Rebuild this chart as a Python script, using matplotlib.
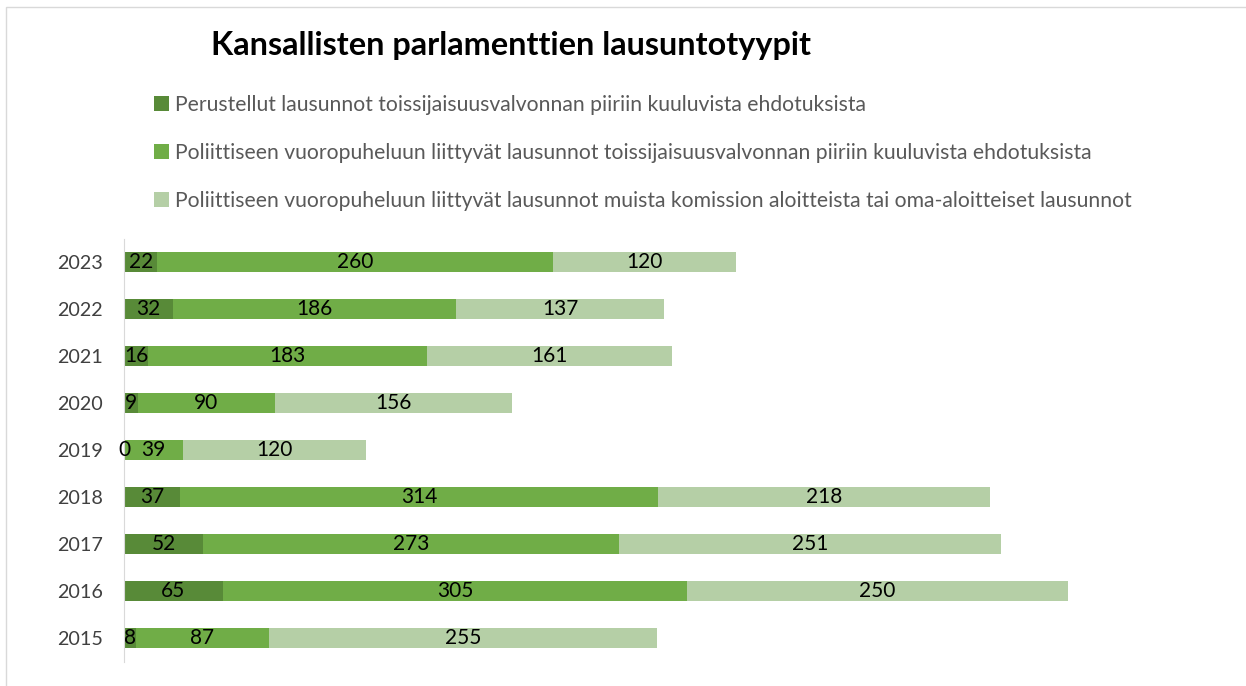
import matplotlib
matplotlib.use("Agg")
import matplotlib.pyplot as plt
from matplotlib.patches import Rectangle

years = ["2015", "2016", "2017", "2018", "2019", "2020", "2021", "2022", "2023"]
perustellut = [8, 65, 52, 37, 0, 9, 16, 32, 22]
poliittinen_toiss = [87, 305, 273, 314, 39, 90, 183, 186, 260]
poliittinen_muut = [255, 250, 251, 218, 120, 156, 161, 137, 120]
labels = [
    "Perustellut lausunnot toissijaisuusvalvonnan piiriin kuuluvista ehdotuksista",
    "Poliittiseen vuoropuheluun liittyvät lausunnot toissijaisuusvalvonnan piiriin kuuluvista ehdotuksista",
    "Poliittiseen vuoropuheluun liittyvät lausunnot muista komission aloitteista tai oma-aloitteiset lausunnot",
]
colors = ["#588A38", "#70AD47", "#B5CFA6"]

plt.rcParams["font.family"] = ["Lato", "DejaVu Sans"]

W, H = 1246, 686
fig = plt.figure(figsize=(W / 100, H / 100), dpi=100)
# light frame around the chart area
fig.patches.append(Rectangle((6 / W, -0.1), 1.2, (H - 7) / H + 0.1, transform=fig.transFigure,
                             fill=False, edgecolor="#D9D9D9", lw=1))

ax = fig.add_axes([124 / W, (H - 661.5) / H, 1096 / W, 423 / H])

series = [perustellut, poliittinen_toiss, poliittinen_muut]
left = [0] * len(years)
for vals, col, lab in zip(series, colors, labels):
    ax.barh(range(len(years)), vals, left=left, height=0.42, color=col, label=lab)
    for i, v in enumerate(vals):
        ax.text(left[i] + v / 2, i, str(v), ha="center", va="center", fontsize=15, color="black")
    left = [a + b for a, b in zip(left, vals)]

ax.set_xlim(0, 720)
ax.set_ylim(-0.5, len(years) - 0.5)
ax.set_yticks(range(len(years)))
ax.set_yticklabels(years, fontsize=14.2, color="#404040")
ax.tick_params(axis="y", length=0, pad=15)
ax.set_xticks([])
for s in ["top", "right", "bottom"]:
    ax.spines[s].set_visible(False)
ax.spines["left"].set_color("#D9D9D9")

fig.text(511 / W, 1 - 46 / H, "Kansallisten parlamenttien lausuntotyypit", ha="center", va="center",
         fontsize=23.3, fontweight="bold", color="black")

handles, hl = ax.get_legend_handles_labels()
fig.legend(handles, hl, loc="upper left", bbox_to_anchor=(135 / W, 1 - 76 / H), frameon=False,
           fontsize=15.2, labelcolor="#595959", handlelength=0.7, handleheight=0.7, handletextpad=0.3,
           labelspacing=1.33)

fig.savefig("out.png", dpi=100)
